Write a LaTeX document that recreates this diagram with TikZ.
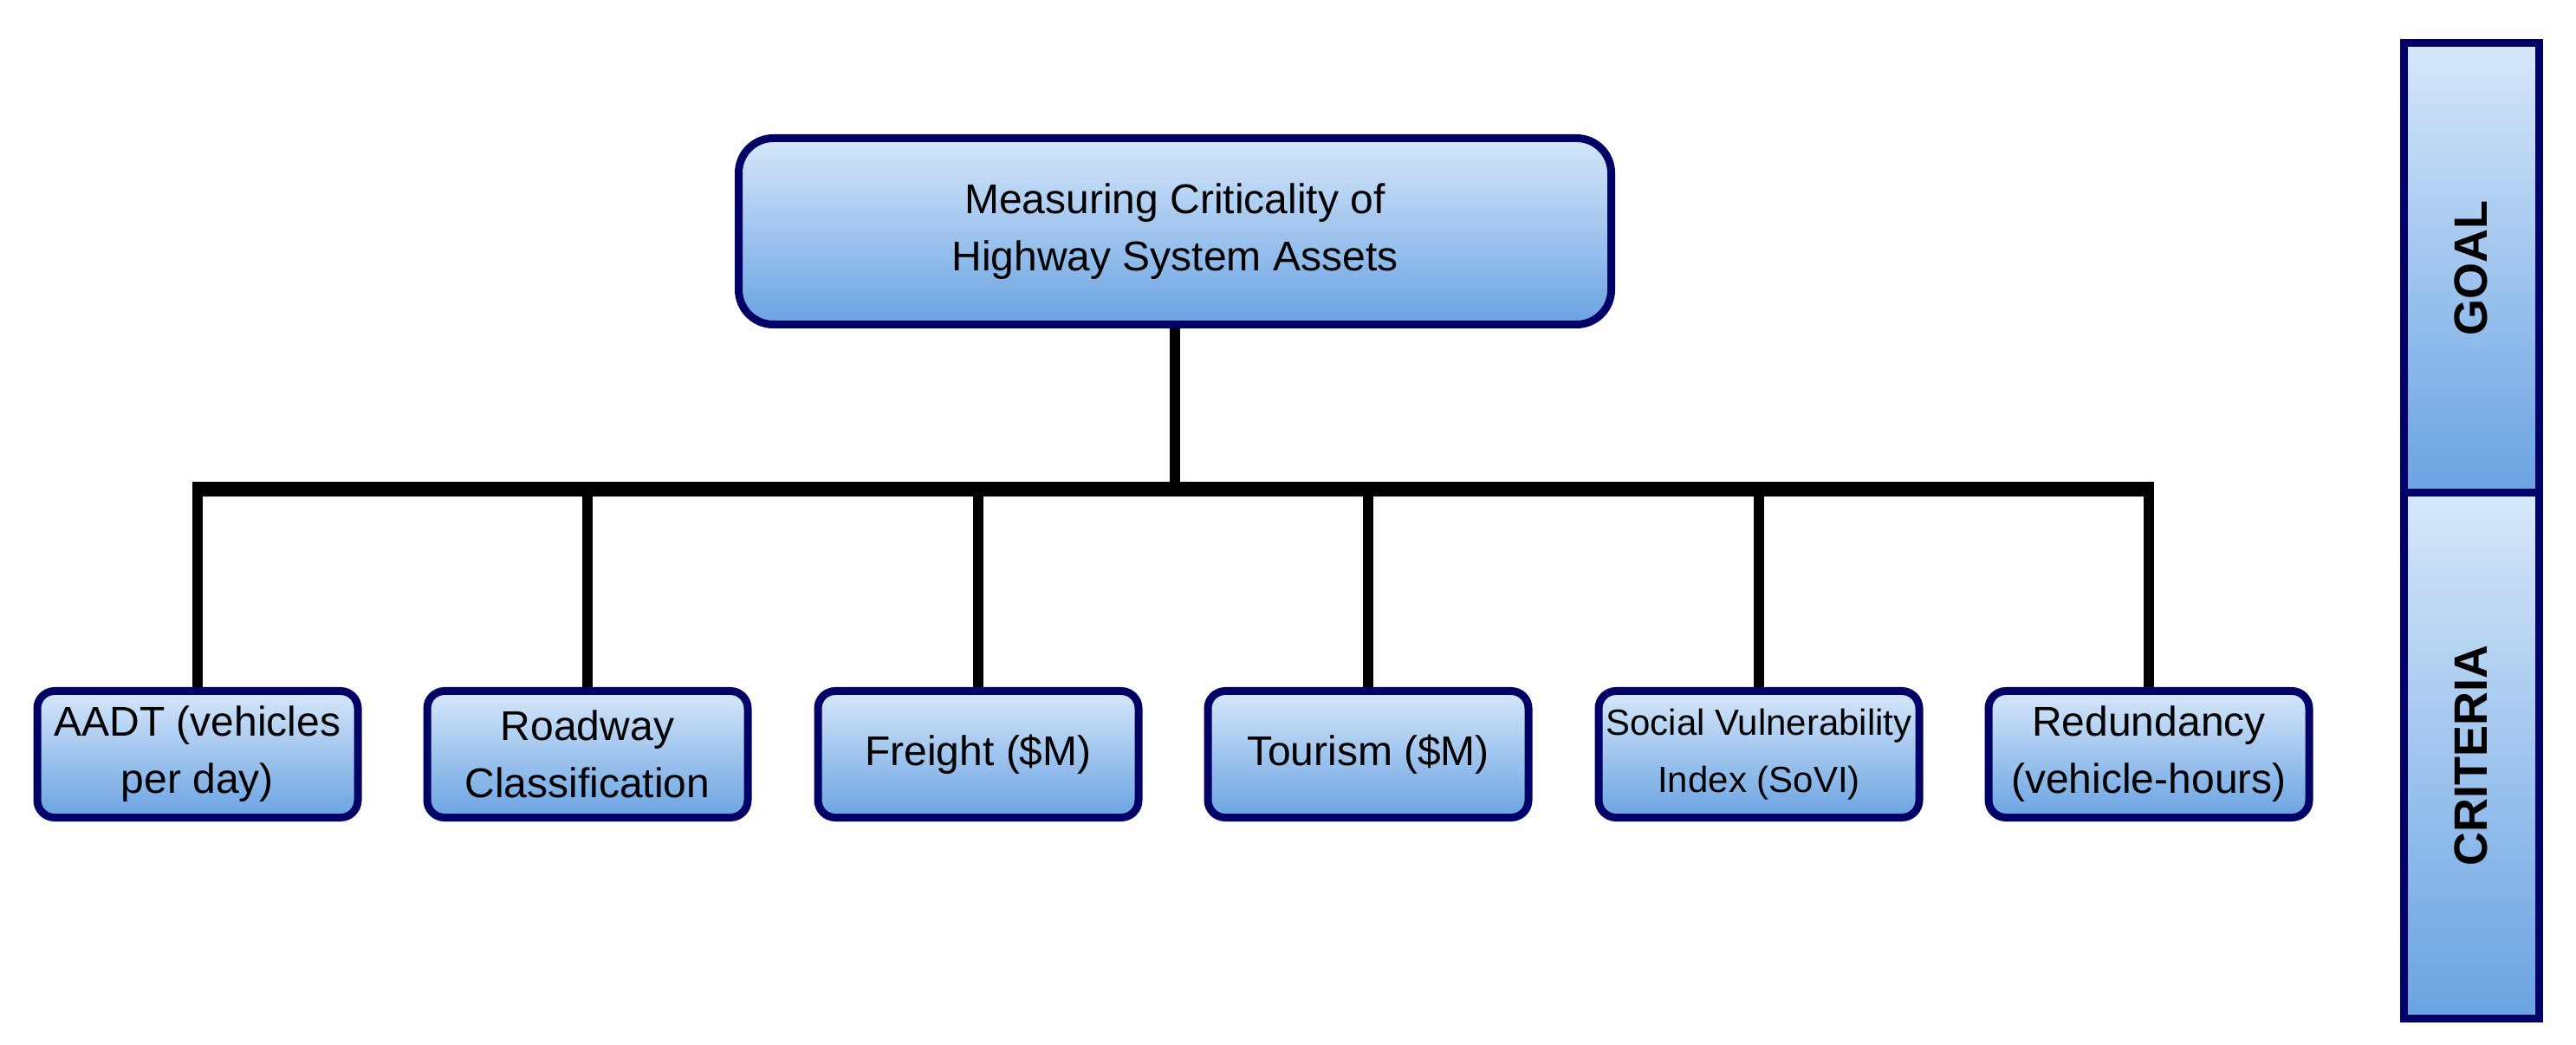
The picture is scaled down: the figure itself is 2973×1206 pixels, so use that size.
\documentclass[tikz,border=0pt]{standalone}
\usepackage{fontspec}
\setmainfont{Liberation Sans}
\definecolor{boxedge}{RGB}{0,0,102}
\definecolor{boxtop}{RGB}{214,231,250}
\definecolor{boxbot}{RGB}{106,163,226}
\tikzset{
  critbox/.style={draw=boxedge, line width=2.25pt, rounded corners=5pt,
    top color=boxtop, bottom color=boxbot, align=center, inner sep=1pt,
    minimum width=92.5pt, minimum height=36.5pt},
  goalbox/.style={critbox, rounded corners=10pt,
    minimum width=251.75pt, minimum height=53.75pt},
  tagbox/.style={draw=boxedge, line width=2.25pt, rotate=90,
    top color=boxtop, bottom color=boxbot, minimum height=39pt,
    font=\fontsize{13.5}{16}\selectfont\bfseries},
  barline/.style={line width=4.25pt},
  stemline/.style={line width=3pt},
}

\begin{document}
\begin{tikzpicture}[x=0.25pt,y=-0.25pt]
  \useasboundingbox (0,0) rectangle (2973,1206);
  % goal
  \node[goalbox, font=\fontsize{12}{16.5}\selectfont] (goal) at (1356,267)
    {Measuring Criticality of\\Highway System Assets};
  \coordinate (bar) at (1356,565);
  % criteria
  \foreach \n/\x/\s/\t in {c1/228/12/{AADT (vehicles\\per day)},
      c2/678/12/{Roadway\\Classification},
      c3/1129/12/{Freight (\$M)},
      c4/1579/12/{Tourism (\$M)},
      c5/2030/10.5/{Social Vulnerability\\Index (SoVI)},
      c6/2480/12/{Redundancy\\(vehicle-hours)}}{
    \node[critbox, font=\fontsize{\s}{16.5}\selectfont] (\n) at (\x,870.5) {\t};
  }
  % connectors
  \draw[stemline] (goal.south) -- (goal.south |- bar);
  \draw[barline] ([xshift=-1.5pt]c1.north |- bar) -- ([xshift=1.5pt]c6.north |- bar);
  \foreach \n in {c1,c2,c3,c4,c5,c6}{
    \draw[stemline] (\n.north |- bar) -- (\n.north);
  }
  % side tags
  \node[tagbox, minimum width=129.75pt] (goaltag) at (2852,309.5) {GOAL};
  \node[tagbox, minimum width=151.5pt] (crittag) at (2852,872) {CRITERIA};
\end{tikzpicture}
\end{document}
